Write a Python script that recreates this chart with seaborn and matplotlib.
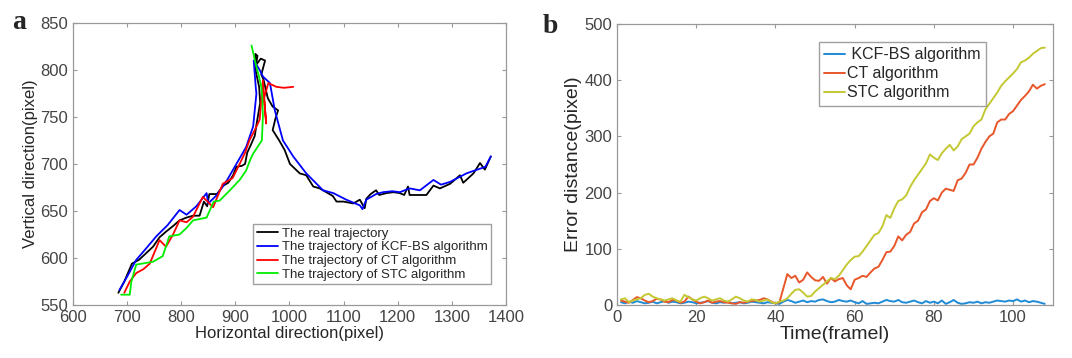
import matplotlib
matplotlib.use("Agg")
import matplotlib.pyplot as plt
import numpy as np
import pandas as pd
import seaborn as sns

# ---- panel a: trajectories (horizontal, vertical) ----
real_x = [684, 695, 709, 722, 735, 748, 760, 772, 785, 797, 810, 822, 834, 842, 848, 852, 866, 878, 887, 896, 902, 912, 918, 922, 930, 936, 940, 946, 944, 938, 937, 941, 938, 947, 955, 948, 952, 960, 969, 979, 974, 969, 980, 991, 1001, 1019, 1031, 1044, 1056, 1068, 1080, 1087, 1100, 1118, 1130, 1139, 1142, 1150, 1160, 1166, 1179, 1192, 1204, 1212, 1219, 1222, 1240, 1253, 1266, 1278, 1297, 1315, 1321, 1340, 1352, 1361, 1372]
real_y = [563, 575, 594, 598, 605, 612, 622, 628, 634, 640, 643, 645, 645, 660, 655, 668, 668, 677, 680, 688, 697, 698, 700, 712, 722, 730, 745, 765, 782, 798, 817, 815, 805, 812, 810, 795, 790, 770, 761, 757, 748, 736, 726, 715, 700, 690, 688, 676, 674, 670, 666, 660, 660, 658, 662, 653, 663, 668, 672, 667, 669, 670, 669, 667, 676, 667, 667, 667, 677, 674, 679, 688, 680, 690, 701, 694, 708]

kcf_x = [686, 700, 717, 735, 754, 775, 797, 810, 828, 847, 850, 866, 885, 902, 920, 933, 939, 938, 934, 945, 951, 964, 973, 988, 1007, 1031, 1050, 1062, 1081, 1105, 1130, 1135, 1142, 1160, 1173, 1190, 1204, 1222, 1241, 1266, 1280, 1297, 1327, 1352, 1362, 1372]
kcf_y = [566, 580, 598, 610, 623, 635, 651, 646, 655, 669, 658, 667, 683, 700, 718, 740, 775, 780, 810, 800, 793, 786, 757, 725, 708, 690, 679, 672, 669, 662, 656, 652, 662, 668, 670, 671, 670, 674, 672, 683, 678, 681, 690, 695, 697, 708]

ct_x = [695, 705, 717, 730, 742, 760, 772, 785, 797, 810, 822, 840, 859, 877, 895, 908, 918, 926, 935, 945, 951, 957, 953, 961, 976, 990, 1007]
ct_y = [563, 575, 584, 588, 594, 619, 612, 625, 640, 638, 644, 665, 654, 679, 685, 700, 712, 725, 735, 747, 789, 743, 770, 786, 782, 781, 782]

stc_x = [689, 705, 708, 717, 748, 766, 778, 797, 810, 822, 847, 860, 871, 890, 908, 920, 928, 933, 949, 951, 950, 948, 943, 939, 930]
stc_y = [561, 561, 575, 593, 596, 602, 623, 625, 632, 640, 643, 660, 661, 672, 683, 693, 705, 711, 725, 750, 770, 782, 795, 803, 826]

# ---- panel b: error distance per frame ----
kcf_err = [5, 3, 6, 4, 7, 5, 3, 4, 6, 3, 5, 7, 4, 6, 5, 3, 4, 6, 5, 3,
           4, 5, 7, 4, 3, 5, 4, 6, 3, 4, 5, 3, 4, 6, 5, 4, 3, 5, 4, 3,
           2, 6, 9, 7, 4, 6, 8, 5, 7, 6, 9, 10, 7, 5, 6, 9, 7, 6, 8, 5,
           3, 7, 2, 3, 4, 3, 6, 9, 7, 6, 9, 5, 4, 6, 8, 5, 3, 7, 4, 6,
           3, 8, 2, 5, 9, 4, 2, 3, 5, 4, 6, 3, 5, 4, 6, 8, 7, 6, 8, 7,
           10, 6, 8, 5, 7, 6, 4, 2]
ct_err = [8, 6, 4, 9, 14, 12, 8, 5, 7, 11, 10, 6, 5, 9, 8, 4, 6, 15, 10, 6,
          3, 5, 8, 4, 6, 7, 5, 4, 3, 2, 5, 4, 6, 7, 8, 9, 12, 10, 6, 3,
          5, 30, 55, 48, 52, 40, 45, 58, 50, 44, 43, 50, 38, 48, 42, 46, 48, 35, 28, 45,
          48, 52, 50, 58, 65, 68, 80, 94, 95, 105, 122, 115, 125, 130, 145, 150, 165, 170, 185, 190,
          186, 200, 207, 205, 203, 222, 225, 235, 250, 250, 262, 278, 290, 300, 305, 325, 330, 330,
          340, 345, 355, 365, 372, 380, 392, 385, 390, 393]
stc_err = [10, 12, 5, 8, 10, 12, 18, 20, 15, 12, 10, 8, 10, 12, 8, 6, 18, 14, 10, 8,
           12, 15, 12, 8, 10, 12, 8, 6, 10, 15, 12, 8, 6, 10, 9, 6, 8, 10, 5, 3,
           6, 8, 12, 20, 27, 28, 22, 15, 16, 24, 30, 36, 42, 48, 46, 52, 62, 72, 80, 86,
           87, 95, 105, 115, 125, 128, 140, 160, 155, 172, 185, 188, 195, 210, 222, 232, 242, 252, 268, 262,
           258, 270, 278, 285, 275, 282, 295, 300, 305, 318, 325, 330, 348, 358, 368, 378, 390, 398,
           405, 412, 420, 432, 435, 440, 447, 452, 457, 458]
frames = np.arange(1, len(kcf_err) + 1)

sns.set_style("white")
plt.rcParams['font.family'] = ['Liberation Sans', 'DejaVu Sans']

fig = plt.figure(figsize=(10.72, 3.58), dpi=100)
ax1 = fig.add_axes([0.068, 0.148, 0.404, 0.788])
ax2 = fig.add_axes([0.5756, 0.148, 0.4064, 0.785])

# panel a
traj = [("The real trajectory", real_x, real_y, "black"),
        ("The trajectory of KCF-BS algorithm", kcf_x, kcf_y, "#0000ff"),
        ("The trajectory of CT algorithm", ct_x, ct_y, "#ff0000"),
        ("The trajectory of STC algorithm", stc_x, stc_y, "#00ee00")]
for name, xs, ys, c in traj:
    sns.lineplot(x=xs, y=ys, sort=False, estimator=None, color=c, lw=1.3, label=name, ax=ax1)
ax1.set_xlim(600, 1400)
ax1.set_ylim(550, 850)
ax1.set_xticks(range(600, 1401, 100))
ax1.set_yticks(range(550, 851, 50))
ax1.set_xlabel("Horizontal direction(pixel)", fontsize=12, labelpad=1)
ax1.set_ylabel("Vertical direction(pixel)", fontsize=12, labelpad=2)
leg1 = ax1.legend(loc="lower right", bbox_to_anchor=(0.98, 0.05), fontsize=9.5, frameon=True,
                  fancybox=False, edgecolor="#888888", handlelength=1.6, handletextpad=0.3,
                  labelspacing=0.12, borderpad=0.25)
ax1.text(-0.14, 1.0, "a", transform=ax1.transAxes, fontsize=20, fontweight="bold",
         family="Liberation Serif", va="center")

# panel b
df = pd.DataFrame({"frame": np.tile(frames, 3),
                   "err": kcf_err + ct_err + stc_err,
                   "alg": [" KCF-BS algorithm"] * len(frames) + ["CT algorithm"] * len(frames) + ["STC algorithm"] * len(frames)})
sns.lineplot(data=df, x="frame", y="err", hue="alg", estimator=None,
             palette=["#1f8ad6", "#e8562a", "#c4c832"], lw=1.4, ax=ax2)
ax2.set_xlim(0, 110)
ax2.set_ylim(0, 500)
ax2.set_xticks(range(0, 101, 20))
ax2.set_yticks(range(0, 501, 100))
ax2.set_xlabel("Time(framel)", fontsize=14, labelpad=1)
ax2.set_ylabel("Error distance(pixel)", fontsize=14, labelpad=2)
leg2 = ax2.legend(loc="upper right", bbox_to_anchor=(0.865, 0.965), fontsize=11.5, frameon=True,
                  fancybox=False, edgecolor="#888888", handlelength=1.3, handletextpad=0.1,
                  labelspacing=0.25, borderpad=0.35)
ax2.text(-0.17, 0.99, "b", transform=ax2.transAxes, fontsize=20, fontweight="bold",
         family="Liberation Serif", va="center")

for ax in (ax1, ax2):
    for s in ax.spines.values():
        s.set_color("#999999")
        s.set_linewidth(0.9)
    ax.tick_params(direction="in", length=3, color="#999999", labelsize=12,
                   labelcolor="#444444", bottom=True, left=True, top=True, right=True,
                   labeltop=False, labelright=False)

fig.savefig("out.png", dpi=100)
